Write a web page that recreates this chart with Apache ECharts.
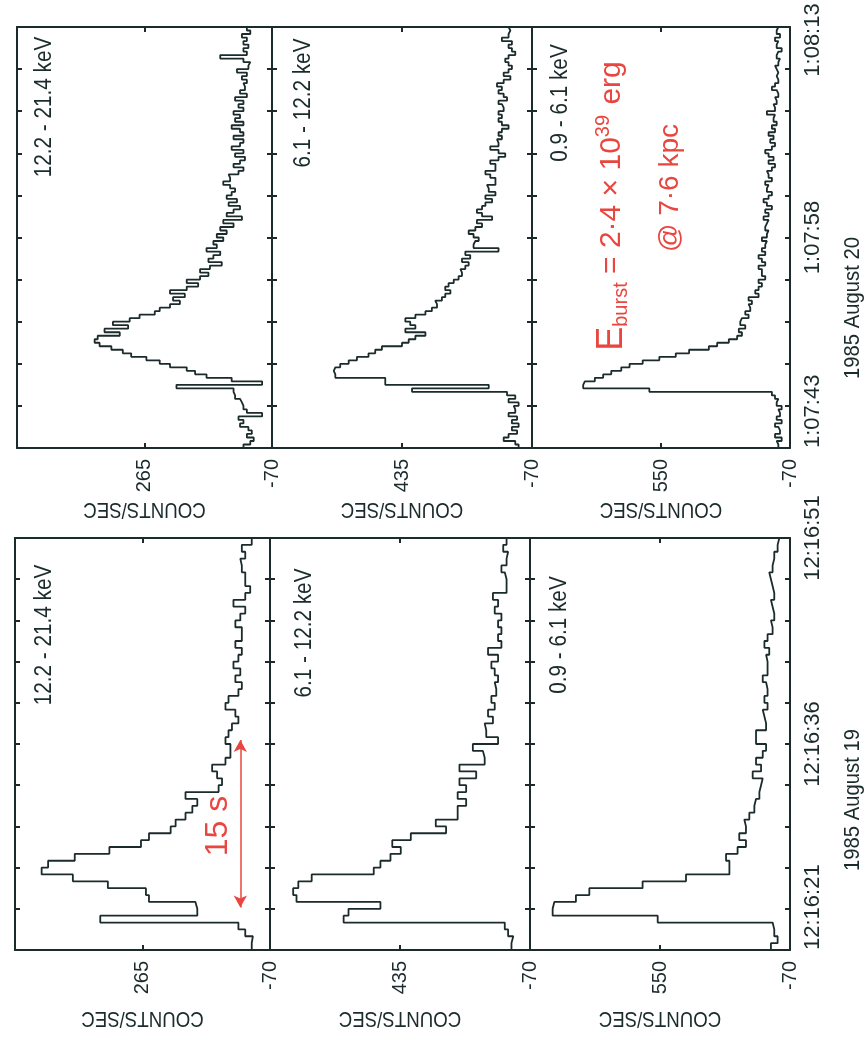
<!DOCTYPE html>
<html><head><meta charset="utf-8">
<script src="https://cdn.jsdelivr.net/npm/echarts@6/dist/echarts.min.js"></script>
<style>html,body{margin:0;padding:0;background:#fff}#c{width:867px;height:1061px}</style>
</head><body><div id="c"></div>
<script>
// ---------------- DATA ----------------
const bandLabels = ['12.2 - 21.4 keV', '6.1 - 12.2 keV', '0.9 - 6.1 keV'];
const countMin = -70;
const countIntervals = [335, 505, 620];          // tick steps: -70/265/600, -70/435/940, -70/550/1170
const timeSpan = 30;                              // seconds shown per panel
const timeTickStep = 3;
const timeLabelsAug20 = ['1:07:43', '1:07:58', '1:08:13'];
const timeLabelsAug19 = ['12:16:21', '12:16:36', '12:16:51'];
const dateLabels = ['1985 August 20', '1985 August 19'];
const yAxisTitle = 'COUNTS/SEC';
const binAug20 = 0.25;   // s
const binAug19 = 0.5;    // s

// 1985 August 20 (0.25 s bins, 120 bins)
const aug20_hi = [5,-13,-22,-4,-17,-8,14,5,18,-44,
  -4,5,9,14,27,31,31,181,-44,36,
  102,132,154,198,225,260,300,322,352,383,
  396,388,330,370,308,348,304,278,238,225,
  198,172,190,159,198,154,124,154,119,97,
  119,93,62,97,84,66,102,75,84,58,
  75,49,66,31,58,9,49,31,14,44,
  22,49,36,27,40,58,40,44,18,5,
  31,14,1,27,5,36,14,5,31,5,
  14,36,5,27,14,31,5,18,5,27,
  -4,14,1,5,-4,9,-4,22,-8,-13,
  5,66,-4,5,-8,5,-4,9,-13,-4];
const aug20_mid = [-18,-5,40,21,-12,8,-18,8,-12,21,
  -5,1,-18,21,-5,27,396,98,500,500,
  694,700,694,675,642,610,565,539,513,435,
  409,383,344,422,383,403,422,383,344,319,
  299,306,280,267,247,267,254,234,215,202,
  208,189,176,202,170,189,60,157,150,137,
  157,176,150,124,144,85,124,144,124,111,
  85,111,72,98,105,72,72,92,111,72,
  72,92,60,34,60,92,60,66,47,60,
  47,21,47,60,47,60,40,47,60,27,
  40,60,47,66,40,14,40,21,8,21,
  34,21,-5,8,21,8,47,21,14,21];
const aug20_lo = [-14,-6,-30,2,-22,-14,2,-30,-6,-22,
  -14,-30,-6,-14,2,17,606,924,916,868,
  828,789,741,701,638,558,479,415,320,280,
  224,184,161,176,145,169,161,129,145,121,
  129,113,129,81,97,81,65,81,49,65,
  65,81,49,65,81,49,65,49,41,65,
  41,33,49,41,33,57,33,49,17,41,
  57,33,17,41,33,49,17,33,41,17,
  2,33,9,33,49,17,2,25,9,33,
  2,17,-6,9,2,41,2,9,-6,2,
  -14,-6,17,2,-14,-6,-14,-6,2,-14,
  -22,-6,-14,-30,-6,-14,2,-22,-6,-14];

// 1985 August 19 (0.5 s bins, 60 bins)
const aug19_hi = [-22,-25,-5,13,376,121,126,248,256,356,
  448,530,513,443,352,269,248,191,178,152,
  134,121,152,65,56,69,82,47,34,34,
  47,39,30,13,21,47,39,13,4,21,
  8,26,13,4,21,4,4,21,8,-5,
  26,-5,-18,-5,-5,4,8,-5,4,-22];
const aug19_mid = [2,-5,15,28,654,635,511,837,850,830,
  778,537,511,472,432,465,393,256,296,211,
  211,178,211,178,204,139,204,106,113,152,
  54,100,106,74,93,67,80,61,67,54,
  67,80,54,93,41,54,41,54,41,67,
  54,74,21,21,28,41,21,15,34,21];
const aug19_lo = [21,-11,5,13,561,1062,1054,951,887,633,
  426,219,219,235,180,140,172,140,148,124,
  100,92,76,68,60,108,68,92,60,44,
  92,92,44,52,60,37,52,37,44,60,
  37,37,44,29,52,37,13,21,5,13,
  21,5,13,21,29,13,5,5,-11,-19];

// hand-written annotations
const arrow15s = { count: 8, tFrom: 3.1, tTo: 15.3, text: '15 s' };
const energyNote = ['E', 'burst', ' = 2·4 × 10', '39', ' erg'];
const distanceNote = '@ 7·6 kpc';

// ---------------- LAYOUT / STYLE ----------------
const INK = '#1b2b2b';
const RED = '#e8463e';
const FONT = '"Liberation Sans", Arial, sans-serif';
const rows = [
  { top: 27,  height: 421, lefts: [17, 272, 532], widths: [255, 260, 258], bin: binAug20,
    series: [aug20_hi, aug20_mid, aug20_lo], times: timeLabelsAug20, shiftTop: true,
    bandPos: [[45, 107], [304, 103], [561, 103]], titleY: 509, dateY: 308 },
  { top: 538, height: 412, lefts: [15, 270, 530], widths: [255, 260, 260], bin: binAug19,
    series: [aug19_hi, aug19_mid, aug19_lo], times: timeLabelsAug19, shiftTop: false,
    bandPos: [[45, 635], [305, 633], [560, 635]], titleY: 1018, dateY: 800 }
];

function steps(vals, bin) {
  const pts = [];
  vals.forEach((v, i) => { pts.push([v, i * bin]); pts.push([v, (i + 1) * bin]); });
  return pts;
}

const grid = [], xAxis = [], yAxis = [], series = [], graphic = [];
const lineAx = { show: true, onZero: false, lineStyle: { color: INK, width: 2 } };
const tickIn = { show: true, inside: true, length: 5, lineStyle: { color: INK, width: 2 } };

rows.forEach((row, r) => {
  for (let c = 0; c < 3; c++) {
    const g = r * 3 + c;
    const iv = countIntervals[c];
    grid.push({ left: row.lefts[c], top: row.top, width: row.widths[c], height: row.height,
      containLabel: false, outerBoundsMode: 'none' });
    const xBase = { gridIndex: g, type: 'value', inverse: true, min: countMin, max: countMin + 2 * iv,
      interval: iv, axisLine: lineAx, axisTick: tickIn, splitLine: { show: false } };
    xAxis.push(Object.assign({}, xBase, { position: 'bottom',
      axisLabel: { show: true, rotate: 90, margin: 11, showMaxLabel: false, showMinLabel: true,
        color: INK, fontFamily: FONT, fontSize: 20 } }));
    xAxis.push(Object.assign({}, xBase, { position: 'top', axisLabel: { show: false } }));
    const yBase = { gridIndex: g, type: 'value', min: 0, max: timeSpan, interval: timeTickStep,
      axisLine: lineAx, axisTick: tickIn, splitLine: { show: false } };
    yAxis.push(Object.assign({}, yBase, { position: 'left', axisLabel: { show: false } }));
    yAxis.push(Object.assign({}, yBase, { position: 'right',
      axisLabel: c === 2 ? { show: true, rotate: 90, margin: 12, color: INK, fontFamily: FONT, fontSize: 22,
        alignMinLabel: 'left',
        rich: { top: { fontFamily: FONT, fontSize: 22, color: INK, padding: [0, 26, 0, 0] } },
        formatter: v => {
          if (Math.abs(v % 15) > 1e-6) return '';
          const k = Math.round(v / 15);
          return (k === 2 && row.shiftTop) ? '{top|' + row.times[k] + '}' : row.times[k];
        } } : { show: false } }));
    const s = { type: 'line', xAxisIndex: 2 * g, yAxisIndex: 2 * g, data: steps(row.series[c], row.bin),
      showSymbol: false, symbol: 'none', clip: true, animation: false,
      lineStyle: { color: INK, width: 1.8 }, z: 3 };
    if (r === 1 && c === 0) {
      s.markLine = { silent: true, symbol: ['arrow', 'arrow'], symbolSize: [10, 12], animation: false,
        lineStyle: { color: RED, width: 1.5, type: 'solid' }, label: { show: false },
        data: [[{ coord: [arrow15s.count, arrow15s.tFrom] }, { coord: [arrow15s.count, arrow15s.tTo] }]] };
    }
    series.push(s);
    // band label
    graphic.push({ type: 'text', x: row.bandPos[c][0], y: row.bandPos[c][1], rotation: Math.PI / 2, scaleX: 0.9,
      style: { text: bandLabels[c], fill: INK, font: '23px ' + FONT, align: 'center', verticalAlign: 'middle' } });
    // COUNTS/SEC (upside down)
    graphic.push({ type: 'text', x: row.lefts[c] + row.widths[c] / 2, y: row.titleY, rotation: Math.PI, scaleX: 0.85,
      style: { text: yAxisTitle, fill: INK, font: '22px ' + FONT, align: 'center', verticalAlign: 'middle' } });
  }
  graphic.push({ type: 'text', x: 853, y: row.dateY, rotation: Math.PI / 2, scaleX: 0.92,
    style: { text: dateLabels[r], fill: INK, font: '22px ' + FONT, align: 'center', verticalAlign: 'middle' } });
});

// red notes
graphic.push({ type: 'text', x: 218, y: 826, rotation: Math.PI / 2,
  style: { text: arrow15s.text, fill: RED, font: '32px "Liberation Sans", sans-serif', align: 'center', verticalAlign: 'middle' } });
graphic.push({ type: 'text', x: 612, y: 206, rotation: Math.PI / 2,
  style: { text: '{e|' + energyNote[0] + '}{s|' + energyNote[1] + '}{n|' + energyNote[2] + '}{p|' + energyNote[3] + '}{n|' + energyNote[4] + '}',
    fill: RED, align: 'center', verticalAlign: 'middle',
    rich: {
      e: { fontSize: 36, fontFamily: 'Liberation Sans', fill: RED },
      s: { fontSize: 20, fontFamily: 'Liberation Sans', fill: RED, verticalAlign: 'bottom', padding: [18, 0, 0, 0] },
      n: { fontSize: 30, fontFamily: 'Liberation Sans', fill: RED },
      p: { fontSize: 20, fontFamily: 'Liberation Sans', fill: RED, verticalAlign: 'top', padding: [0, 2, 16, 0] }
    } } });
graphic.push({ type: 'text', x: 670, y: 188, rotation: Math.PI / 2,
  style: { text: distanceNote, fill: RED, font: '28px "Liberation Sans", sans-serif', align: 'center', verticalAlign: 'middle' } });

const chart = echarts.init(document.getElementById('c'), null, { renderer: 'canvas' });
chart.setOption({ backgroundColor: '#ffffff', animation: false, grid, xAxis, yAxis, series, graphic });
</script></body></html>
